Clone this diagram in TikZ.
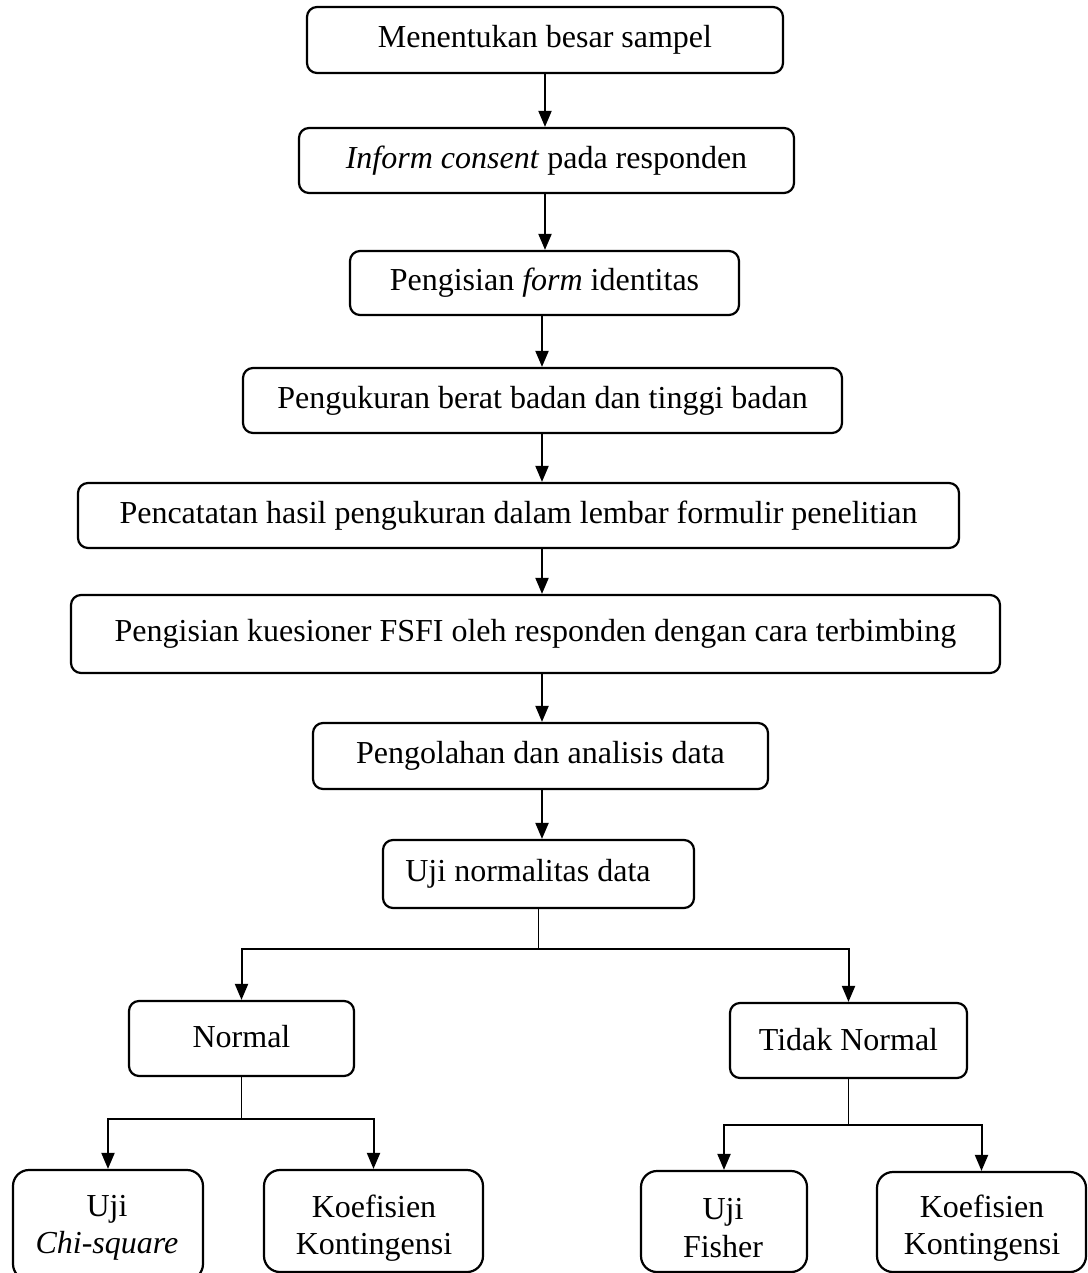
\documentclass[tikz,border=0pt]{standalone}
\usepackage{fontspec}
\setmainfont{Liberation Serif}
\usetikzlibrary{arrows.meta,calc}
\tikzset{
  box/.style={draw, line width=2.2pt, rounded corners=10pt, inner sep=0pt, font=\fontsize{32}{37}\selectfont},
  leaf/.style={draw, line width=2.2pt, rounded corners=16pt, inner sep=0pt},
  leaftext/.style={inner sep=0pt, align=center, font=\fontsize{32}{37.5}\selectfont},
  arr/.style={line width=2pt, -{Triangle[length=16pt,width=13pt]}},
  thinln/.style={line width=1.3pt},
}
\begin{document}
\begin{tikzpicture}[x=1pt,y=-1pt]
\useasboundingbox (0,0) rectangle (1087,1273);
\node[box, minimum width=476pt, minimum height=66pt] (b1) at (545,40) {Menentukan besar sampel};
\node[box, minimum width=495pt, minimum height=65pt] (b2) at (546.5,160.5) {\textit{Inform consent} pada responden};
\node[box, minimum width=389pt, minimum height=64pt] (b3) at (544.5,283) {Pengisian \textit{form} identitas};
\node[box, minimum width=599pt, minimum height=65pt] (b4) at (542.5,400.5) {Pengukuran berat badan dan tinggi badan};
\node[box, minimum width=881pt, minimum height=65pt] (b5) at (518.5,515.5) {Pencatatan hasil pengukuran dalam lembar formulir penelitian};
\node[box, minimum width=929pt, minimum height=78pt] (b6) at (535.5,634) {Pengisian kuesioner FSFI oleh responden dengan cara terbimbing};
\node[box, minimum width=455pt, minimum height=66pt] (b7) at (540.5,756) {Pengolahan dan analisis data};
\node[box, minimum width=311pt, minimum height=68pt] (b8) at (538.5,874) {Uji normalitas data\hspace*{21pt}};
\node[box, minimum width=225pt, minimum height=75pt] (n) at (241.5,1038.5) {\raisebox{4pt}{Normal}};
\node[box, minimum width=237pt, minimum height=75pt] (tn) at (848.5,1040.5) {\raisebox{2pt}{Tidak Normal}};
\node[leaf, minimum width=190pt, minimum height=110pt] (c1) at (108,1225) {};
\node[leaf, minimum width=219pt, minimum height=102pt] (c2) at (373.5,1221) {};
\node[leaf, minimum width=166pt, minimum height=101pt] (c3) at (724,1221.5) {};
\node[leaf, minimum width=209pt, minimum height=100pt] (c4) at (981.5,1222) {};
\node[leaftext] (c1t) at (107,1228) {Uji\\\textit{Chi-square}};
\node[leaftext] (c2t) at (374,1228) {Koefisien\\Kontingensi};
\node[leaftext] (c3t) at (723,1228) {Uji\\Fisher};
\node[leaftext] (c4t) at (982,1228) {Koefisien\\Kontingensi};
\coordinate (sx) at (542,0);
\draw[arr] (b1.south) -- (b2.north -| b1.south);
\draw[arr] (b2.south -| b1.south) -- (b3.north -| b1.south);
\draw[arr] (b3.south -| sx) -- (b4.north -| sx);
\draw[arr] (b4.south -| sx) -- (b5.north -| sx);
\draw[arr] (b5.south -| sx) -- (b6.north -| sx);
\draw[arr] (b6.south -| sx) -- (b7.north -| sx);
\draw[arr] (b7.south -| sx) -- (b8.north -| sx);
\draw[thinln] (b8.south) -- ++(0,40) coordinate (j1);
\draw[arr] (j1) -| (n.north);
\draw[arr] (j1) -| (tn.north);
\draw[thinln] (n.south) -- ++(0,42) coordinate (j2);
\draw[arr] (j2) -| (c1.north);
\draw[arr] (j2) -| (c2.north);
\draw[thinln] (tn.south) -- ++(0,46) coordinate (j3);
\draw[arr] (j3) -| (c3.north);
\draw[arr] (j3) -| (c4.north);
\end{tikzpicture}
\end{document}
